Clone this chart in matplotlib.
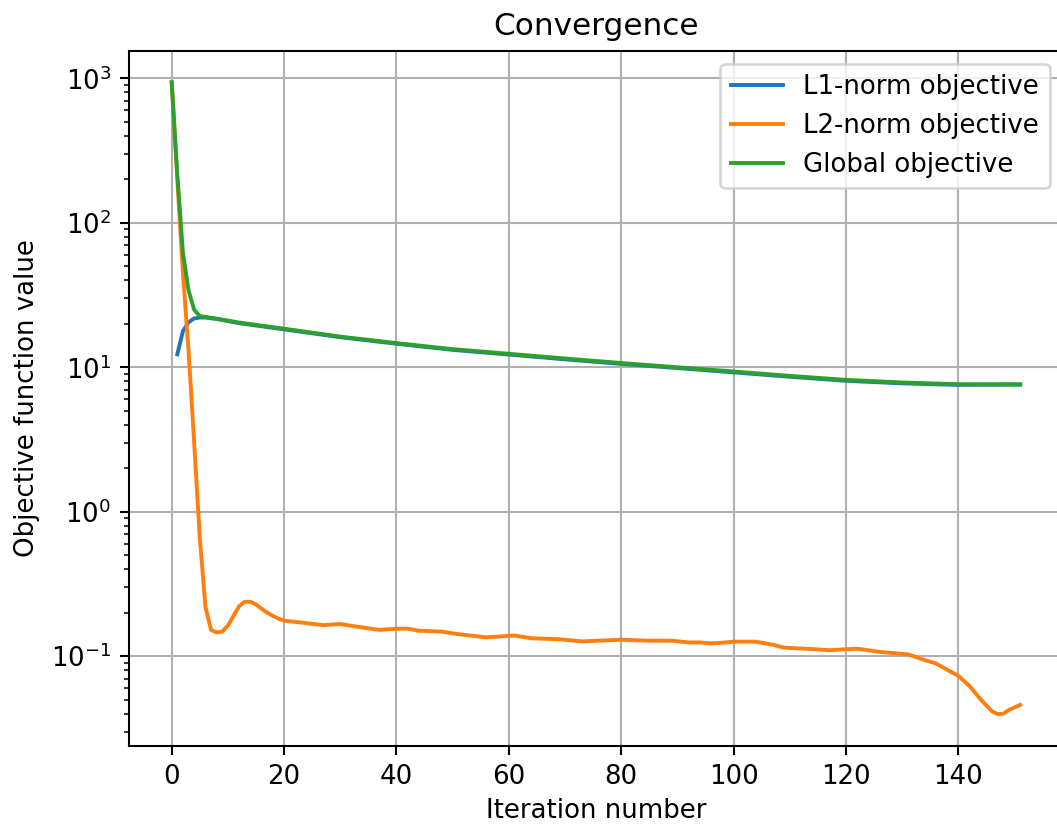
import numpy as np
import matplotlib
matplotlib.use('Agg')
import matplotlib.pyplot as plt

# L2-norm objective
l2_iter = [0, 1, 2, 3, 4, 5, 6, 7, 8, 9, 10, 11, 12, 13, 14, 15, 16, 17, 18, 19,
           20, 23, 27, 30, 33, 37, 40, 42, 44, 48, 51, 56, 61, 64, 69, 73, 76,
           80, 85, 89, 92, 94, 96, 98, 100, 104, 107, 109, 114, 117, 122, 126,
           131, 134, 136, 140, 142, 144, 146, 147, 148, 149, 151]
l2_vals = [940, 200, 45, 13, 3.0, 0.66, 0.22, 0.152, 0.146, 0.148, 0.163, 0.19,
           0.222, 0.238, 0.238, 0.228, 0.213, 0.2, 0.19, 0.182,
           0.176, 0.171, 0.164, 0.167, 0.160, 0.152, 0.155, 0.155, 0.150, 0.148,
           0.142, 0.135, 0.139, 0.133, 0.131, 0.1265, 0.128, 0.130, 0.128, 0.128,
           0.1245, 0.1245, 0.1225, 0.124, 0.126, 0.126, 0.120, 0.1145, 0.112,
           0.110, 0.1127, 0.107, 0.103, 0.094, 0.089, 0.073, 0.062, 0.050,
           0.0415, 0.0397, 0.0400, 0.0425, 0.046]

# L1-norm objective
l1_iter = [1, 2, 3, 4, 5, 6, 8, 12, 20, 30, 40, 50, 60, 70, 80, 90, 100,
           110, 120, 130, 140, 145, 151]
l1_vals = [12.3, 17.8, 20.5, 21.8, 22.1, 22.1, 21.6, 20.2, 18.3, 16.15, 14.55,
           13.2, 12.25, 11.35, 10.55, 9.88, 9.22, 8.6, 8.06, 7.74, 7.55, 7.58, 7.58]

# Global objective
gl_iter = [0, 1, 2, 3, 4, 5, 6, 8, 12, 20, 30, 40, 50, 60, 70, 80, 90, 100,
           110, 120, 130, 140, 145, 151]
gl_vals = [940, 215, 62, 34, 25, 22.6, 22.3, 21.7, 20.4, 18.5, 16.3, 14.7, 13.35,
           12.4, 11.5, 10.7, 10.0, 9.35, 8.72, 8.18, 7.85, 7.63, 7.62, 7.63]

fig = plt.figure(figsize=(1057 / 187, 824 / 187), dpi=187)
ax = fig.add_axes([0.1223, 0.095, 0.883, 0.8435])

ax.plot(l1_iter, l1_vals, label='L1-norm objective')
ax.plot(l2_iter, l2_vals, label='L2-norm objective')
ax.plot(gl_iter, gl_vals, label='Global objective')
ax.set_yscale('log')
ax.set_xlim(-7.55, 158.55)
ax.set_xticks(np.arange(0, 141, 20))
ax.set_xlabel('Iteration number', labelpad=3)
ax.set_ylabel('Objective function value')
ax.set_title('Convergence')
ax.grid(True)
ax.legend(loc='upper right')

fig.savefig('out.png', dpi=187)
